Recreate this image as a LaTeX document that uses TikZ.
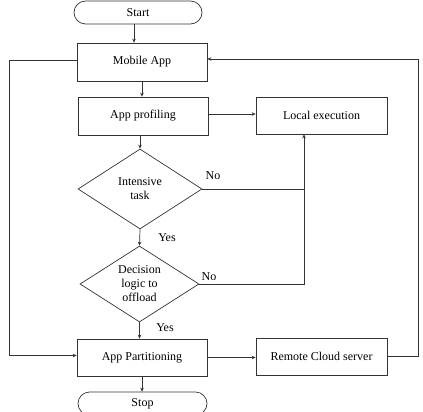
\documentclass[tikz,border=0pt]{standalone}
\usepackage{fontspec}
\setmainfont{Liberation Serif}
\usetikzlibrary{shapes.geometric,arrows.meta}
\begin{document}
\begin{tikzpicture}[x=1pt,y=-1pt,
  font=\fontsize{12}{14}\selectfont,
  line/.style={draw=black!80,line width=0.7pt},
  arr/.style={line,-{Stealth[length=4pt,width=3.5pt]}},
  box/.style={line,rectangle,minimum width=130pt,minimum height=38pt,inner sep=0pt},
  term/.style={line,rectangle,rounded corners=11.5pt,minimum width=128pt,minimum height=23pt,inner sep=0pt},
  dec/.style={line,diamond,aspect=1.55,inner sep=0pt,align=center,font=\fontsize{12}{14}\selectfont},
  lbl/.style={inner sep=0pt}]
\useasboundingbox (0,0) rectangle (423,412);
\node[term] (start) at (138,12.5) {Start};
\node[box] (mobile) at (142,62) {Mobile App};
\node[box] (prof) at (143,116) {App profiling};
\node[box,minimum width=131pt,minimum height=37pt] (local) at (321.5,115.5) {Local execution};
\node[dec,minimum width=124pt,minimum height=80pt] (int) at (140,189) {Intensive\\task};
\node[dec,minimum width=119pt,minimum height=76pt] (dec) at (139.5,284) {Decision\\logic to\\offload};
\node[box,minimum height=37pt] (part) at (142,357.5) {App Partitioning};
\node[box,minimum width=131pt,minimum height=37pt] (remote) at (321.5,356.5) {Remote Cloud server};
\node[term,minimum width=129pt] (stop) at (142.5,403.5) {Stop};
\coordinate (lb) at ([xshift=-17.5pt]local.south);
\draw[arr] ([xshift=-4pt]start.south) -- ([xshift=-4pt]start.south |- mobile.north);
\draw[arr] (mobile.south) -- (mobile.south |- prof.north);
\draw[arr] (int.north |- prof.south) -- (int.north);
\draw[arr] (int.south) -- (dec.north);
\draw[arr] (dec.south) -- (dec.south |- part.north);
\draw[arr] (part.south) -- (part.south |- stop.north);
\draw[arr] ([yshift=2pt]prof.east) -- ([yshift=2pt]prof.east -| local.west);
\draw[arr] (part.east) -- (part.east -| remote.west);
\draw[line] (int.east) -- (int.east -| lb);
\draw[arr] (dec.east) -| (lb);
\draw[arr] ([yshift=2pt]mobile.west) -- ++(-67,0) |- ([yshift=2pt]part.west);
\draw[arr] (remote.east) -- ++(31,0) |- ([yshift=3pt]mobile.east);
\node[lbl] (no1) at (213,176) {No};
\node[lbl] (no2) at (209,277) {No};
\node[lbl] (yes1) at (167,238) {Yes};
\node[lbl] (yes2) at (165,328) {Yes};
\end{tikzpicture}
\end{document}
